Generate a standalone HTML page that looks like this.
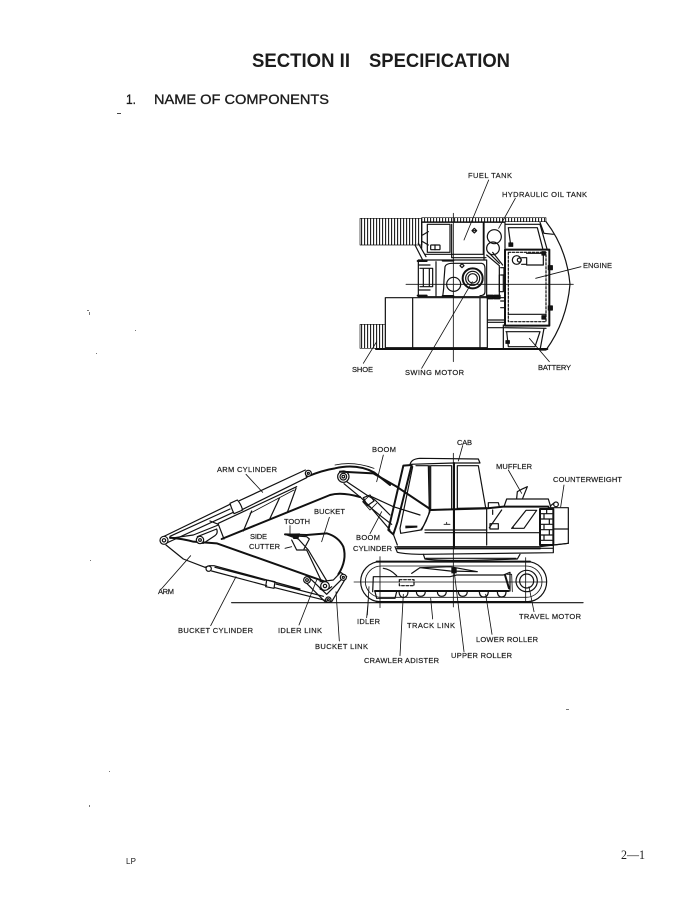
<!DOCTYPE html>
<html><head><meta charset="utf-8"><title>Section II Specification</title>
<style>
html,body{margin:0;padding:0;background:#fff}
svg{display:block}
text{font-family:"Liberation Sans",sans-serif;fill:#1c1c1c}
.l{font-size:7.5px;stroke:#1c1c1c;stroke-width:.2}
.d{filter:blur(.25px)}
.d path,.d line,.d circle,.d rect{fill:none;stroke:#111;stroke-width:3.6;stroke-linecap:round;stroke-linejoin:round}
.d .t{stroke-width:2.5}
.d .h{stroke-width:6}
.d .w{fill:#fff}
.d .f{fill:#111;stroke:none}
</style></head><body>
<svg xmlns="http://www.w3.org/2000/svg" width="684" height="905" viewBox="0 0 684 905">
<defs>
<pattern id="v" width="9" height="10" patternUnits="userSpaceOnUse"><rect x="0" y="0" width="3.4" height="10" fill="#222"/></pattern>
</defs>
<rect width="684" height="905" fill="#fff"/>

<text x="252" y="67" font-size="19" font-weight="bold" textLength="98" lengthAdjust="spacingAndGlyphs">SECTION II</text>
<text x="369" y="67" font-size="19" font-weight="bold" textLength="141" lengthAdjust="spacingAndGlyphs">SPECIFICATION</text>
<text x="126" y="104" font-size="14" textLength="10" lengthAdjust="spacingAndGlyphs" style="stroke:#1c1c1c;stroke-width:.35">1.</text>
<text x="154" y="104" font-size="14" textLength="175" lengthAdjust="spacingAndGlyphs" style="stroke:#1c1c1c;stroke-width:.35">NAME OF COMPONENTS</text>
<rect x="117" y="113" width="4" height="1" fill="#444"/>

<!-- specks -->
<g fill="#777"><rect x="87" y="310" width="2" height="1"/><rect x="89" y="312" width="1" height="3"/><rect x="135" y="330" width="1" height="1"/><rect x="96" y="353" width="1" height="1"/><rect x="90" y="560" width="1" height="1"/><rect x="109" y="771" width="1" height="1"/><rect x="89" y="805" width="1" height="2"/><rect x="566" y="709" width="3" height="1"/></g>

<!-- TOP VIEW -->
<g class="d" transform="translate(340,165) scale(.33333)">
<rect x="60" y="160" width="186" height="80" style="fill:url(#v);stroke-width:2"/>
<rect x="245" y="158" width="373" height="12" style="fill:url(#v);stroke-width:2"/>
<path d="M618 170Q680 250 690 358Q680 470 618 555L600 555"/>
<path d="M600 172L612 205L640 208"/>
<path d="M225 240L248 285M235 235L258 275M245 175L245 250"/>
<path d="M245 172H430V268H255M262 178V262H330V178H262M335 178V278M337 278H438"/>
<path d="M248 210L265 200M248 230L265 240"/>
<rect x="272" y="240" width="28" height="14" rx="2"/>
<path d="M285 240V254"/>
<path d="M403 190L396 197L403 204L410 197Z"/>
<path d="M398 197H408"/>
<path d="M430 172H495V250M432 172V285"/>
<circle cx="463" cy="215" r="21"/>
<circle cx="459" cy="250" r="19"/>
<path d="M445 262L478 295M458 262L488 300"/>
<path d="M497 178H600L622 255M505 188H592L608 250M505 188L512 240"/>
<rect x="507" y="234" width="11" height="10" style="fill:#111"/>
<rect class="h" x="495" y="254" width="133" height="228"/>
<rect x="505" y="262" width="113" height="208" style="stroke-dasharray:7 5"/>
<path d="M505 448H618"/>
<circle cx="530" cy="285" r="13"/>
<circle cx="538" cy="285" r="6"/>
<path d="M545 278H560V298H545M560 265H610V300H560"/>
<rect x="606" y="260" width="10" height="10" style="fill:#111"/>
<rect x="625" y="302" width="12" height="12" style="fill:#111"/>
<rect x="625" y="423" width="12" height="12" style="fill:#111"/>
<rect x="606" y="452" width="10" height="10" style="fill:#111"/>
<!-- centre frame -->
<path d="M235 285H440V395H235M235 285V395M288 290V392M235 300L270 300M235 375H270M240 310H278V365H240M250 310V365M268 310V365"/>
<path class="h" d="M233 288H260M233 392H260M308 287H340M308 393H340"/>
<path d="M308 395Q312 370 312 345L315 305Q318 296 335 295H425Q435 297 435 310V380Q435 392 420 392"/>
<path d="M366 296L360 302L366 308L372 302Z"/>
<circle cx="341" cy="358" r="21"/>
<circle cx="398" cy="340" r="30" class="h"/>
<circle cx="398" cy="340" r="21"/>
<circle cx="398" cy="340" r="14"/>
<path d="M440 270L478 302V395H440M482 308H492V330H482M482 408H494V428H482"/>
<path d="M478 330V380H490V330M440 395H478"/>
<rect x="443" y="392" width="16" height="8" class="h"/><rect x="463" y="392" width="16" height="8" class="h"/>
<!-- lower block -->
<path d="M136 398H442V548H136ZM218 398V548M420 398V548M442 398L495 398M442 465H495M442 472H495M442 488H490M490 480V548"/>
<rect x="60" y="478" width="76" height="72" style="fill:url(#v);stroke-width:2"/>
<path class="h" d="M108 552H622"/>
<path d="M490 488L618 490M612 490L600 555M498 500H600L585 545H505L500 500"/>
<rect x="498" y="527" width="10" height="8" style="fill:#111"/>
<!-- centre lines -->
<path class="t" d="M198 358H700M340 145V590"/>
<!-- leaders -->
<path class="t" d="M446 45L372 225M526 100L476 190M723 305L587 340M110 530L70 595M397 350L245 610M568 520L628 590"/>
</g>

<!-- BOOM / ARM / BUCKET -->
<g class="d" transform="translate(150,435) scale(.33333)">
<!-- arm cylinder -->
<path d="M38 306L240 208M50 324L250 232M268 197L466 105M276 224L470 128"/>
<path d="M240 205L262 195Q272 205 278 225L252 236Q245 222 240 205Z"/>
<path d="M60 304L240 222"/>
<!-- boom -->
<path class="h" d="M215 312L540 180Q575 170 630 186"/>
<path class="h" d="M470 125Q520 105 555 100Q620 85 672 112L720 150"/>
<path class="t" d="M555 90Q610 78 672 100"/>
<path d="M205 265L440 155M180 258L205 268L222 312M305 228L280 288M388 190L360 250M438 160L412 232"/>
<path class="t" d="M300 235L432 165"/>
<!-- arm body -->
<path class="h" d="M60 308Q100 312 130 320L200 325L525 440"/>
<path d="M48 330L100 372L165 397"/>
<path d="M60 310L130 300L205 270"/>
<path d="M142 305L200 282Q205 295 195 302L160 325H145"/>
<circle cx="42" cy="316" r="12" class="w"/><circle cx="42" cy="316" r="5"/>
<circle cx="150" cy="315" r="11" class="w"/><circle cx="150" cy="315" r="4"/>
<circle cx="475" cy="115" r="9" class="w"/><circle cx="475" cy="115" r="3"/>
<!-- bucket cyl -->
<path d="M165 397L178 392L192 392L450 462M185 408L350 452M375 458L530 497M195 397L345 436M378 447L520 484"/>
<path d="M350 435L375 440L372 460L347 455Z"/>
<circle cx="176" cy="401" r="8" class="w"/>
<!-- boom foot -->
<circle cx="580" cy="125" r="17"/><circle cx="580" cy="125" r="10"/><circle cx="580" cy="125" r="4"/>
<path d="M590 140L650 180M582 146L635 190"/>
<path d="M650 180L675 195L720 240M635 190L660 215L720 285"/>
<path d="M640 188L660 180L672 198L652 212Z"/>
<!-- bucket -->
<path class="h" d="M405 298L470 300L530 295Q565 305 580 335Q592 375 565 418"/>
<path d="M405 298L445 312L475 345L530 437"/>
<path d="M425 315L440 345L470 345M470 345L515 440"/>
<path d="M420 302L470 305L478 312L462 342"/>
<path style="fill:#111;stroke:none" d="M425 296L450 295L445 312L430 312Z"/>
<!-- links -->
<path d="M510 440L550 435L572 412L590 425L545 500L525 500L470 445L478 428L530 478L580 428"/>
<path d="M510 462Q525 472 545 455"/>
<circle cx="525" cy="453" r="13" class="w"/><circle cx="525" cy="453" r="5"/>
<circle cx="580" cy="427" r="9" class="w"/><circle cx="580" cy="427" r="3"/>
<circle cx="471" cy="435" r="10" class="w"/><circle cx="471" cy="435" r="4"/>
<circle cx="535" cy="494" r="8" class="w"/><circle cx="535" cy="494" r="3"/>
<!-- ground -->
<path d="M245 503H1299"/>
<!-- leaders -->
<path class="t" d="M288 118L338 172M122 362L34 462M258 425L182 572M538 247L515 320M695 230L660 296M420 272L420 300M405 340L425 335M500 435L447 570M558 470L568 618M655 495L650 548"/>
</g>

<!-- BODY / TRACK -->
<g class="d" transform="translate(340,435) scale(.33333)">
<!-- cab -->
<path d="M210 90Q212 72 240 70L415 72L420 84H345M210 88L340 84"/>
<path class="h" d="M190 92L145 285L160 298L172 262L215 90Z"/>
<path d="M160 298L172 330"/>
<path d="M228 92H265L268 225L268 232L270 222Q262 260 242 285L182 295L180 280L218 95"/>
<path d="M272 92H335V222L272 226V92"/>
<path d="M268 92V225"/>
<path class="h" d="M342 84V340"/>
<path d="M352 92H415L437 218M352 92V220"/>
<path d="M352 220L440 218"/>
<path style="fill:#111;stroke:none" d="M196 272L232 272L232 278L196 280Z"/>
<!-- boom end -->
<path class="h" d="M0 110L100 115L170 155L270 222"/>
<path d="M95 185L160 215L240 240M70 200L125 245L155 268"/>
<path class="t" d="M85 185L68 200L90 225L110 205"/>
<!-- body -->
<path class="h" d="M270 225L440 220L490 215H625"/>
<path d="M170 335H600L685 325V218H625"/>
<path d="M255 285H440M255 293H600M640 282H685"/>
<path d="M440 220V330M270 230L245 285"/>
<path d="M165 335L172 352Q200 358 250 358L640 353L640 330L685 325M600 340H640"/>
<path class="h" d="M172 340H600"/>
<path d="M250 358L255 372Q300 378 400 376L532 372L540 358"/>
<path d="M258 370H528"/>
<path d="M485 225L448 278M515 280L558 226H590L552 280H515L520 278"/>
<path d="M450 266H475V282H450Z"/>
<path d="M445 203H475L478 215M445 203V220M458 225V238"/>
<path d="M492 215L500 192H625L632 215"/>
<path d="M530 190L532 170Q545 162 562 155L548 190"/>
<path class="h" d="M600 222H640V330H600Z"/>
<path d="M604 236H636M604 252H636M604 268H636M604 284H636M604 300H636M604 316H636M620 222V236M612 236V252M628 252V268M612 268V284M628 284V300M612 300V316"/>
<circle cx="648" cy="208" r="7"/>
<path d="M632 212L642 204"/>
<path class="t" d="M312 268H330M320 262V268"/>
<!-- track -->
<rect x="62" y="380" width="558" height="120" rx="58" ry="60"/>
<rect x="76" y="393" width="530" height="94" rx="48" ry="47" class="t"/>
<path class="h" d="M110 380H570M110 501H570"/>
<!-- frame -->
<path d="M100 425H330L350 420H490L510 412V468H105M100 425L98 470"/>
<path class="h" d="M105 468H505"/>
<path d="M105 470L110 490H165L170 470"/>
<path d="M130 400Q150 402 170 422M215 415L240 398L330 395L412 410M240 398L330 408L412 410"/>
<rect x="178" y="434" width="44" height="18" style="stroke-dasharray:8 5"/>
<path class="h" d="M495 420L507 460"/>
<path class="t" d="M500 418L515 418L517 470"/>
<circle cx="560" cy="438" r="32"/>
<circle cx="560" cy="438" r="21"/>
<!-- rollers -->
<path d="M177 470Q178 486 190 488Q204 486 204 470M229 470Q230 484 242 484Q255 484 256 470M292 470Q293 484 305 484Q318 484 319 470M355 470Q356 484 368 484Q381 484 382 470M418 470Q419 486 431 486Q444 486 445 470M472 470Q473 486 485 486Q498 486 498 470"/>
<path style="fill:#111;stroke:none" d="M334 398H350V415H334Z"/>
<!-- centre lines -->
<path class="t" d="M42 441H620M120 365V518M340 55V516M557 368V500"/>
<!-- leaders -->
<path class="t" d="M130 60L110 140M368 32L355 78M505 105L545 175M672 150L662 216M567 455L582 530M87 455L82 540M272 490L278 552M437 478L456 598M342 405L372 650M190 478L180 662"/>
</g>

<!-- labels -->
<g>
<text x="468" y="178" textLength="44" class="l">FUEL TANK</text>
<text x="502" y="197" textLength="85" class="l">HYDRAULIC OIL TANK</text>
<text x="583" y="268" textLength="29" class="l">ENGINE</text>
<text x="352" y="372" textLength="21" class="l">SHOE</text>
<text x="405" y="375" textLength="59" class="l">SWING MOTOR</text>
<text x="538" y="370" textLength="33" class="l">BATTERY</text>
<text x="217" y="472" textLength="60" class="l">ARM CYLINDER</text>
<text x="372" y="452" textLength="24" class="l">BOOM</text>
<text x="314" y="514" textLength="31" class="l">BUCKET</text>
<text x="284" y="524" textLength="26" class="l">TOOTH</text>
<text x="250" y="539" textLength="17" class="l">SIDE</text>
<text x="249" y="549" textLength="31" class="l">CUTTER</text>
<text x="356" y="540" textLength="24" class="l">BOOM</text>
<text x="353" y="551" textLength="39" class="l">CYLINDER</text>
<text x="158" y="594" textLength="16" class="l">ARM</text>
<text x="178" y="633" textLength="75" class="l">BUCKET CYLINDER</text>
<text x="278" y="633" textLength="44" class="l">IDLER LINK</text>
<text x="315" y="649" textLength="53" class="l">BUCKET LINK</text>
<text x="457" y="445" textLength="15" class="l">CAB</text>
<text x="496" y="469" textLength="36" class="l">MUFFLER</text>
<text x="553" y="482" textLength="69" class="l">COUNTERWEIGHT</text>
<text x="519" y="619" textLength="62" class="l">TRAVEL MOTOR</text>
<text x="357" y="624" textLength="23" class="l">IDLER</text>
<text x="407" y="628" textLength="48" class="l">TRACK LINK</text>
<text x="476" y="642" textLength="62" class="l">LOWER ROLLER</text>
<text x="451" y="658" textLength="61" class="l">UPPER ROLLER</text>
<text x="364" y="663" textLength="75" class="l">CRAWLER ADISTER</text>
</g>

<text x="126" y="864" font-size="8" textLength="10">LP</text>
<text x="621" y="859" font-size="13" style="font-family:'Liberation Serif',serif" textLength="24" lengthAdjust="spacingAndGlyphs">2—1</text>
</svg>
</body></html>
